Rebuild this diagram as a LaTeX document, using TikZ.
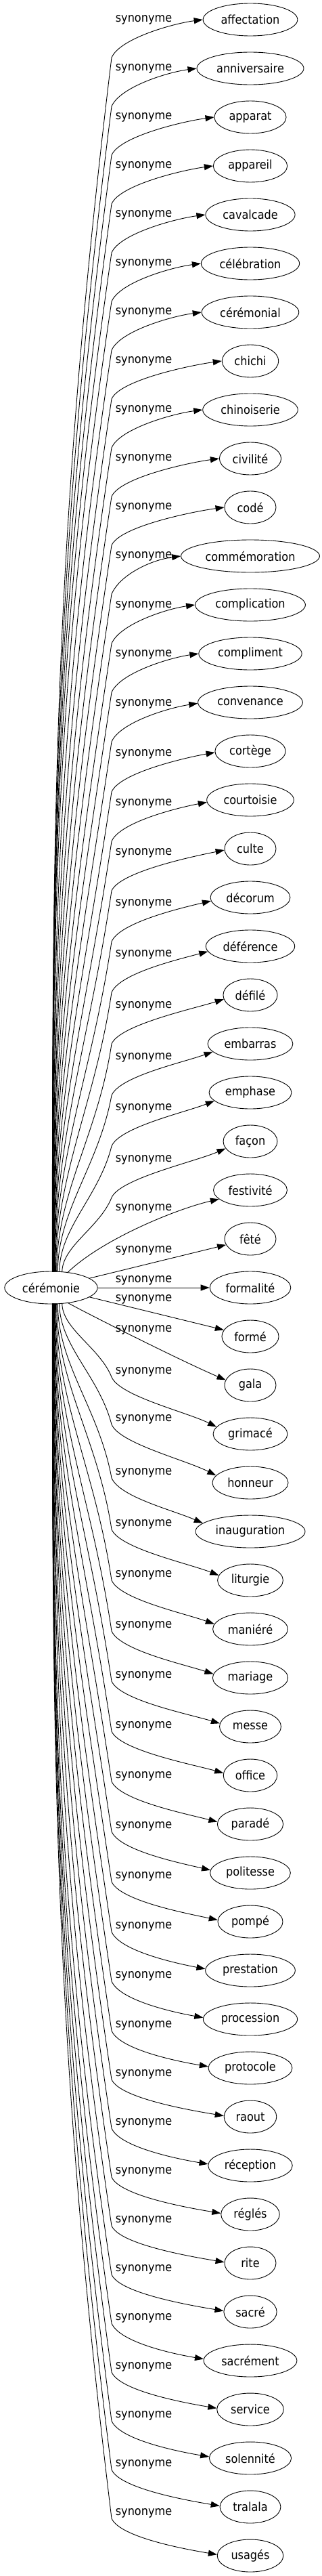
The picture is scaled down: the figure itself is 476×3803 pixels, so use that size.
\documentclass[tikz,border=0pt]{standalone}
\usepackage{fontspec}
\setmainfont{DejaVu Sans}[FakeStretch=0.9]
\usetikzlibrary{arrows.meta,shapes.geometric,calc}
\def\offs{{0,0,0,0,0,0,0,0,0,0,0,0,1,1,2,4,5,6,9,12,16,20,23,27,27,17,-11,-55,-82,-92,-94,-87,-83,-80,-77,-75,-73,-71,-69,-67,-65,-64,-63,-63,-63,-63,-63,-63,-63,-63,-63,-63,-63}}
\begin{document}
\begin{tikzpicture}[x=1pt,y=-1pt,
  tgt/.style={draw, ellipse, line width=0.9pt, minimum width=76pt, minimum height=48pt,
              inner xsep=6pt, inner ysep=2pt, font=\fontsize{17.9}{20}\selectfont},
  lbl/.style={inner sep=0pt, font=\fontsize{17.9}{20}\selectfont},
  syn/.style={line width=0.9pt, -{Triangle[length=13pt,width=9pt]}}]
\useasboundingbox (0,0) rectangle (476,3803);
\node[tgt] (c) at (75.5,1901) {cérémonie};
\foreach \w [count=\j from 0] in {affectation, anniversaire, apparat, appareil, cavalcade, célébration, cérémonial, chichi, chinoiserie, civilité, codé, commémoration, complication, compliment, convenance, cortège, courtoisie, culte, décorum, déférence, défilé, embarras, emphase, façon, festivité, fêté, formalité, formé, gala, grimacé, honneur, inauguration, liturgie, maniéré, mariage, messe, office, paradé, politesse, pompé, prestation, procession, protocole, raout, réception, réglés, rite, sacré, sacrément, service, solennité, tralala, usagés}
  {\node[tgt] (n\j) at (370,{29+72*\j}) {\w};}
% labels
\foreach \j in {0,...,52}{
  \pgfmathsetmacro\qoff{\offs[\j]}
  \pgfmathsetmacro\qL{29+72*\j+\qoff}
  \node[lbl] (l\j) at (212.5,\qL) {synonyme};
}
% upper edges
\foreach \j in {0,...,23}{
  \pgfmathsetmacro\qyt{29+72*\j}
  \pgfmathsetmacro\qoff{\offs[\j]}
  \pgfmathsetmacro\qk{26-\j}
  \pgfmathsetmacro\qphi{90-40/\qk}
  \pgfmathsetmacro\qsx{75.5+70.5*cos(\qphi)}
  \pgfmathsetmacro\qsy{1901-23.5*sin(\qphi)}
  \pgfmathsetmacro\qby{\qyt+\qoff+56}
  \pgfmathsetmacro\qlen{\qsy-\qby}
  \pgfmathsetmacro\qa{0.35*\qlen}
  \pgfmathsetmacro\qm{0.4*\qlen}
  \pgfmathsetmacro\qr{max(0.15,0.6*(165-\qsx)/\qlen)}
  \pgfmathsetmacro\qcx{max(\qsx,165-\qr*\qm)-165}
  \pgfmathsetmacro\qal{180+0.6*\qoff}
  \pgfmathsetmacro\qdd{6+0.5*\qoff}
  \coordinate (b\j) at (165,\qby);
  \draw[syn] ($(c.center)+({70.5*cos(\qphi)},{-23.5*sin(\qphi)})$)
     .. controls +(0,-\qa) and ($(b\j)+(\qcx,\qm)$) .. (b\j)
     .. controls +(12,-28) and +(-45,\qdd) .. (n\j.\qal);
}
% lower edges
\foreach \j in {29,...,52}{
  \pgfmathsetmacro\qyt{29+72*\j}
  \pgfmathsetmacro\qoff{\offs[\j]}
  \pgfmathsetmacro\qk{\j-26}
  \pgfmathsetmacro\qphi{90-40/\qk}
  \pgfmathsetmacro\qsx{75.5+70.5*cos(\qphi)}
  \pgfmathsetmacro\qsy{1901+23.5*sin(\qphi)}
  \pgfmathsetmacro\qby{\qyt+\qoff+8}
  \pgfmathsetmacro\qlen{\qby-\qsy}
  \pgfmathsetmacro\qa{0.35*\qlen}
  \pgfmathsetmacro\qm{0.4*\qlen}
  \pgfmathsetmacro\qr{max(0.15,0.6*(165-\qsx)/\qlen)}
  \pgfmathsetmacro\qcx{max(\qsx,165-\qr*\qm)-165}
  \pgfmathsetmacro\qdy{\qyt-\qby}
  \pgfmathsetmacro\qal{180-max(0,0.35*(\qdy-52))}
  \pgfmathsetmacro\qdd{6+0.5*max(0,\qdy-52)}
  \coordinate (b\j) at (165,\qby);
  \draw[syn] ($(c.center)+({70.5*cos(\qphi)},{23.5*sin(\qphi)})$)
     .. controls +(0,\qa) and ($(b\j)+(\qcx,-\qm)$) .. (b\j)
     .. controls +(12,28) and +(-45,-\qdd) .. (n\j.\qal);
}
% near-centre edges
\draw[syn] ($(c.center)+({70.5*cos(70)},{-23.5*sin(70)})$) .. controls (150,1830) and (260,1785) .. (n24.196);
\draw[syn] (c) -- (n25);
\draw[syn] (c) -- (n26);
\draw[syn] (c) -- (n27);
\draw[syn] ($(c.center)+({70.5*cos(70)},{23.5*sin(70)})$) .. controls (140,1945) and (270,2010) .. (n28.168);
\end{tikzpicture}
\end{document}
